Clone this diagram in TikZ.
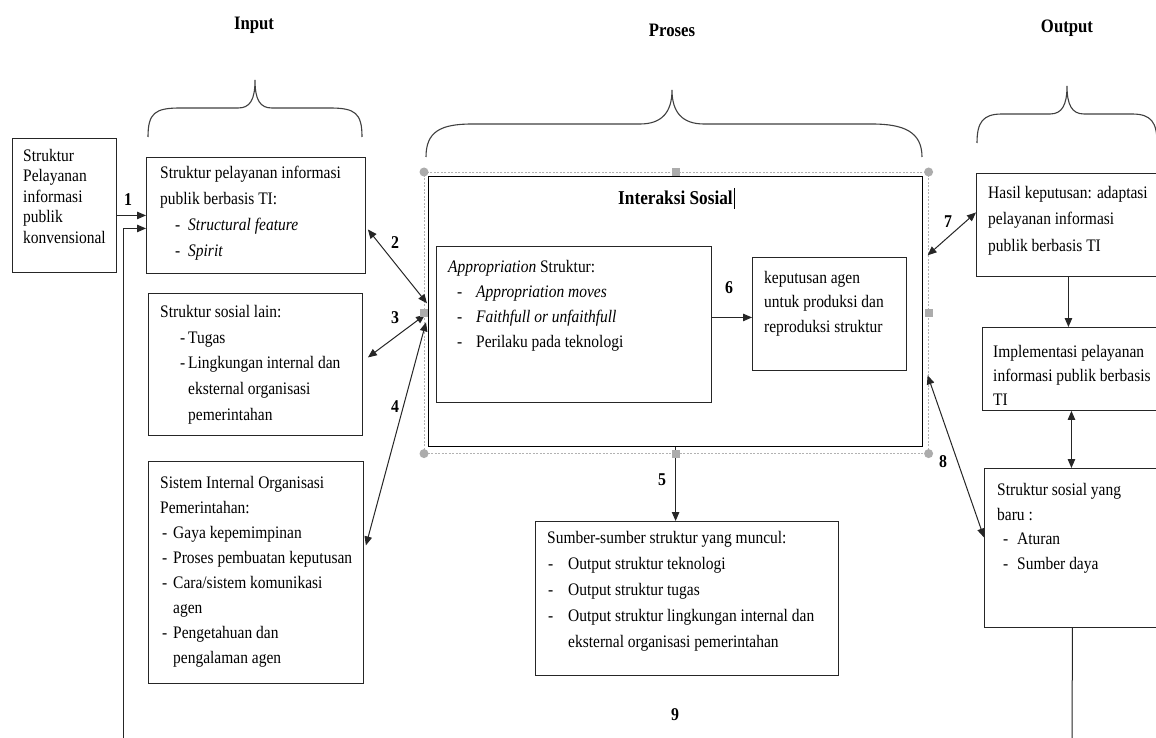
\documentclass[tikz,border=0pt]{standalone}
\usepackage{fontspec}
\setmainfont{Liberation Serif}[FakeStretch=0.88]
\usetikzlibrary{arrows.meta}
\newcommand\itemdash[2]{\makebox[#2pt][l]{\hspace*{#1pt}-}}
\newcommand\itemgap[1]{\hspace*{#1pt}}
\begin{document}
\begin{tikzpicture}[x=1pt,y=-1pt,
  box/.style={draw=black!85, line width=0.9pt, inner sep=0pt, anchor=north west},
  txt/.style={inner sep=0pt, anchor=north west, align=left, font=\fontsize{17.6}{25}\selectfont},
  lab/.style={inner sep=0pt, font=\bfseries\fontsize{18}{18}\selectfont},
  head/.style={inner sep=0pt, font=\bfseries\fontsize{19}{19}\selectfont},
  brace/.style={draw=black!75, line width=1.1pt},
  arr/.style={-{Triangle[length=9pt,width=7.5pt]}, line width=1pt, draw=black!85},
  darr/.style={{Triangle[length=9pt,width=7.5pt]}-{Triangle[length=9pt,width=7.5pt]}, line width=1pt, draw=black!85},
  hc/.style={circle, fill=gray!65, inner sep=0pt, minimum size=9pt},
  hs/.style={rectangle, fill=gray!65, inner sep=0pt, minimum size=8pt}]
\fill[white] (0,0) rectangle (1156,738);
\useasboundingbox (0,0) rectangle (1156,738);

% headers
\node[head] (hin) at (254,25) {Input};
\node[head] (hpr) at (672,30) {Proses};
\node[head] (hout) at (1067,28) {Output};

% braces
\draw[brace] (148,137) .. controls (148,113) and (155,108) .. (180,108) -- (238,108)
  .. controls (250,108) and (255,100) .. (255,80)
  .. controls (255,100) and (260,108) .. (272,108) -- (330,108)
  .. controls (355,108) and (362,113) .. (362,137);
\draw[brace] (426,157) .. controls (426,132) and (440,124) .. (472,124) -- (640,124)
  .. controls (662,124) and (672,112) .. (672,90)
  .. controls (672,112) and (682,124) .. (704,124) -- (872,124)
  .. controls (904,124) and (922,132) .. (922,157);
\draw[brace] (977,143) .. controls (977,122) and (983,114) .. (1002,114) -- (1050,114)
  .. controls (1062,114) and (1067,105) .. (1067,86)
  .. controls (1067,105) and (1072,114) .. (1084,114) -- (1132,114)
  .. controls (1151,114) and (1157,122) .. (1157,143);

% left boxes
\node[box, minimum width=104pt, minimum height=134pt] (b1) at (12,138) {};
\node[txt, font=\fontsize{17.6}{20.5}\selectfont] (t1) at (23,149)
  {Struktur\\Pelayanan\\informasi\\publik\\konvensional};

\node[box, minimum width=219pt, minimum height=116pt] (b2) at (146,157) {};
\node[txt, font=\fontsize{17.6}{26}\selectfont] (t2) at (160,166)
  {Struktur pelayanan informasi\\publik berbasis TI:\\
   \itemdash{15}{28}\textit{Structural feature}\\
   \itemdash{15}{28}\textit{Spirit}};

\node[box, minimum width=214pt, minimum height=142pt] (b3) at (148,293) {};
\node[txt, font=\fontsize{17.6}{25.7}\selectfont] (t3) at (160,305)
  {Struktur sosial lain:\\
   \itemdash{20}{28}Tugas\\
   \itemdash{20}{28}Lingkungan internal dan\\
   \itemgap{28}eksternal organisasi\\
   \itemgap{28}pemerintahan};

\node[box, minimum width=215pt, minimum height=222pt] (b4) at (148,461) {};
\node[txt, font=\fontsize{17.6}{25}\selectfont] (t4) at (160,476)
  {Sistem Internal Organisasi\\Pemerintahan:\\
   \itemdash{2}{13}Gaya kepemimpinan\\
   \itemdash{2}{13}Proses pembuatan keputusan\\
   \itemdash{2}{13}Cara/sistem komunikasi\\
   \itemgap{13}agen\\
   \itemdash{2}{13}Pengetahuan dan\\
   \itemgap{13}pengalaman agen};

% interaction box
\node[draw=gray!60, dash pattern=on 2pt off 1.5pt, line width=0.6pt, inner sep=0pt, anchor=north west,
  minimum width=504pt, minimum height=281pt] (sel) at (424,172) {};
\node[draw=black, line width=1.2pt, inner sep=0pt, anchor=north west,
  minimum width=494pt, minimum height=270pt] (ia) at (428,176) {};
\node[inner sep=0pt, font=\bfseries\fontsize{19.6}{19.6}\selectfont] (iat) at (675.5,198) {Interaksi Sosial};
\coordinate (cur1) at (734,188);
\coordinate (cur2) at (734,209);
\draw[line width=0.6pt] (cur1) -- (cur2);

\node[box, minimum width=275pt, minimum height=156pt] (bA) at (436,246) {};
\node[txt, font=\fontsize{17.6}{25}\selectfont] (tA) at (448,260)
  {\textit{Appropriation} Struktur:\\
   \itemdash{9}{28}\textit{Appropriation moves}\\
   \itemdash{9}{28}\textit{Faithfull or unfaithfull}\\
   \itemdash{9}{28}Perilaku pada teknologi};

\node[box, minimum width=154pt, minimum height=113pt] (bK) at (752,257) {};
\node[txt, font=\fontsize{17.6}{24.5}\selectfont] (tK) at (764,271)
  {keputusan agen\\untuk produksi dan\\reproduksi struktur};

% bottom box
\node[box, minimum width=303pt, minimum height=154pt] (b5) at (535,521) {};
\node[txt, font=\fontsize{17.6}{26}\selectfont] (t5) at (547,531)
  {Sumber-sumber struktur yang muncul:\\
   \itemdash{1}{21}Output struktur teknologi\\
   \itemdash{1}{21}Output struktur tugas\\
   \itemdash{1}{21}Output struktur lingkungan internal dan\\
   \itemgap{21}eksternal organisasi pemerintahan};

% right boxes
\node[box, minimum width=184pt, minimum height=103pt] (bH) at (976,173) {};
\node[txt, font=\fontsize{17.6}{26.5}\selectfont] (tH) at (988,186)
  {Hasil keputusan: adaptasi\\pelayanan informasi\\publik berbasis TI};

\node[box, minimum width=178pt, minimum height=83pt] (bI) at (982,327) {};
\node[txt, font=\fontsize{17.6}{24}\selectfont] (tI) at (993,345)
  {Implementasi pelayanan\\informasi publik berbasis\\TI};

\node[box, minimum width=176pt, minimum height=159pt] (b7) at (984,468) {};
\node[txt, font=\fontsize{17.6}{24.7}\selectfont] (t7) at (997,483)
  {Struktur sosial yang\\baru :\\
   \itemdash{6}{20}Aturan\\
   \itemdash{6}{20}Sumber daya};

% connectors
\draw[arr] (b1.east |- b2.west) -- (b2.west);
\coordinate (fbL) at (123,738);
\draw[arr] (fbL) |- ([yshift=-13pt]b2.west);
\draw[darr] ([xshift=2pt,yshift=-14pt]b2.east) -- ([xshift=3pt,yshift=9.5pt]sel.west);
\draw[darr] ([xshift=5pt,yshift=7pt]b3.east) -- ([xshift=1pt,yshift=-2pt]sel.west);
\draw[darr] ([xshift=2pt,yshift=27pt]b4.east) -- ([xshift=2pt,yshift=-9.5pt]sel.west);
\draw[arr] (ia.south) -- (ia.south |- b5.north);
\draw[arr] ([yshift=-3.5pt]bK.west -| bA.east) -- ([yshift=-3.5pt]bK.west);
\draw[darr] ([xshift=-1pt,yshift=57.5pt]sel.east) -- ([yshift=12.5pt]bH.west);
\draw[darr] ([xshift=-1pt,yshift=-62.5pt]sel.east) -- ([yshift=10.5pt]b7.west);
\draw[arr] (bH.south) -- (bH.south |- bI.north);
\draw[darr] (bI.south) -- (bI.south |- b7.north);
\coordinate (fbR) at (1072,738);
\draw[line width=1pt, draw=black!85] (b7.south) -- (fbR);

% handles
\node[hc] (h1) at (sel.north west) {};
\node[hc] (h2) at (sel.north east) {};
\node[hc] (h3) at (sel.south west) {};
\node[hc] (h4) at (sel.south east) {};
\node[hs] (h5) at (sel.north) {};
\node[hs] (h6) at (sel.south) {};
\node[hs] (h7) at (sel.west) {};
\node[hs] (h8) at (sel.east) {};

% labels
\node[lab] (l1) at (128,200) {1};
\node[lab] (l2) at (395,243) {2};
\node[lab] (l3) at (395,318) {3};
\node[lab] (l4) at (395,407) {4};
\node[lab] (l5) at (662,480) {5};
\node[lab] (l6) at (729,288) {6};
\node[lab] (l7) at (948,222) {7};
\node[lab] (l8) at (943,462) {8};
\node[lab] (l9) at (675,715) {9};
\end{tikzpicture}
\end{document}
